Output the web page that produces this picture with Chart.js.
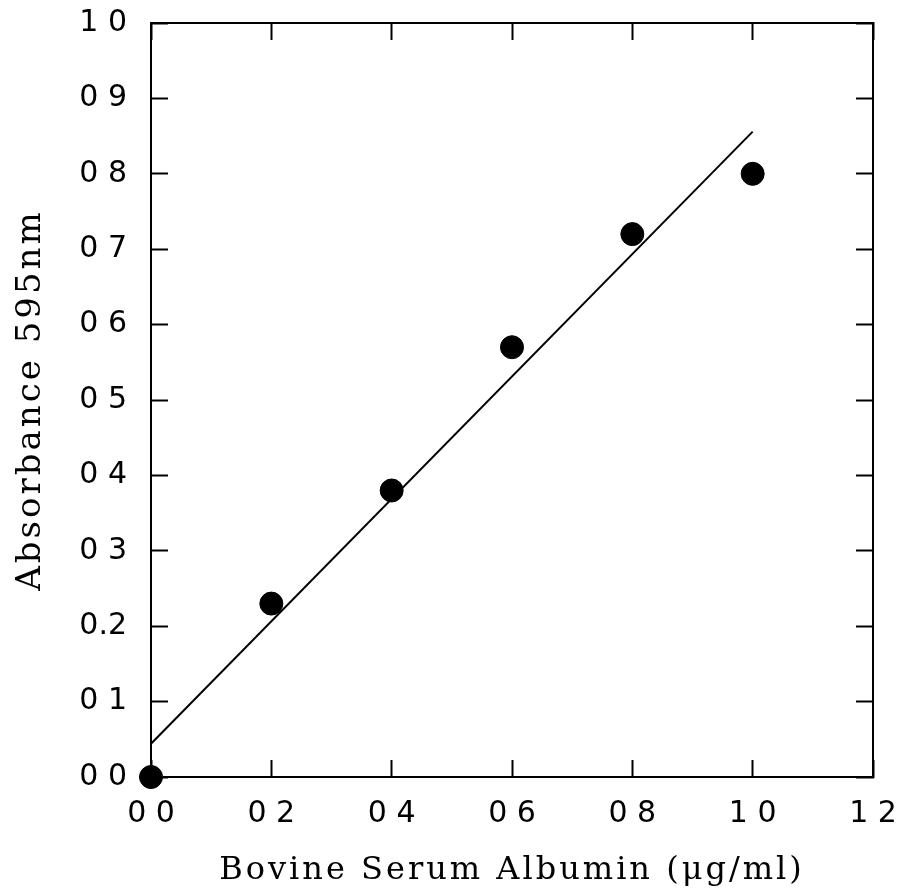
<!DOCTYPE html>
<html>
<head>
<meta charset="utf-8">
<script src="https://cdn.jsdelivr.net/npm/chart.js@4.4.1/dist/chart.umd.min.js"></script>
<style>
  html, body { margin: 0; padding: 0; background: #fff; }
  #wrap { width: 912px; height: 896px; position: relative; }
</style>
</head>
<body>
<div id="wrap"><canvas id="chart"></canvas></div>
<script>
// BSA standard curve data
const bsaConc = [0.0, 0.2, 0.4, 0.6, 0.8, 1.0];
const absorbance = [0.0, 0.23, 0.38, 0.57, 0.72, 0.80];

// fitted line endpoints
const fitX = [0.0, 1.0];
const fitY = [0.044, 0.856];

// axis ticks and their printed labels (as printed, dots mostly lost)
const xTickValues = [0.0, 0.2, 0.4, 0.6, 0.8, 1.0, 1.2];
const xTickLabels = ["0 0", "0 2", "0 4", "0 6", "0 8", "1 0", "1 2"];
const yTickValues = [0.0, 0.1, 0.2, 0.3, 0.4, 0.5, 0.6, 0.7, 0.8, 0.9, 1.0];
const yTickLabels = ["0 0", "0 1", "0.2", "0 3", "0 4", "0 5", "0 6", "0 7", "0 8", "0 9", "1 0"];

const xTitle = "Bovine Serum Albumin (\u03bcg/ml)";
const yTitle = "Absorbance 595nm";

const INK = "#000";
const tickFont = { family: "DejaVu Sans", size: 30 };

const pointsData = bsaConc.map((x, i) => ({ x, y: absorbance[i] }));
const fitData = fitX.map((x, i) => ({ x, y: fitY[i] }));

function setTicks(values) {
    return (scale) => { scale.ticks = values.map((v) => ({ value: v })); };
}

function labelFor(values, labels) {
    return (v) => {
        const i = values.findIndex((t) => Math.abs(t - v) < 1e-6);
        return i >= 0 ? labels[i] : "";
    };
}

// fixed box size, and no extra room asked for overflowing labels
function fixSize(w, h) {
    return (s) => {
        if (w !== null) s.width = w;
        if (h !== null) s.height = h;
        s.paddingLeft = s.paddingRight = s.paddingTop = s.paddingBottom = 0;
    };
}

// titles are drawn with the grid layer (z 0), tick labels after datasets (z 1):
// wide letter spacing only for the titles
const spacing = {
    id: "spacing",
    beforeDraw(chart) { chart.ctx.letterSpacing = "3px"; },
    afterDatasetsDraw(chart) { chart.ctx.letterSpacing = "0px"; },
};

// inward tick marks: negative tickLength
const innerGrid = {
    drawOnChartArea: false,
    drawTicks: true,
    tickLength: -17,
    tickWidth: 2,
    tickColor: INK,
    z: 0,
};
const frame = { display: true, color: INK, width: 2 };

new Chart(document.getElementById("chart").getContext("2d"), {
    data: {
        datasets: [
            {
                type: "line",
                data: fitData,
                borderColor: INK,
                borderWidth: 2,
                pointRadius: 0,
                fill: false,
                tension: 0,
                clip: false,
            },
            {
                type: "scatter",
                data: pointsData,
                backgroundColor: INK,
                borderColor: INK,
                pointRadius: 11.5,
                pointHoverRadius: 11.5,
                clip: false,
            },
        ],
    },
    plugins: [spacing],
    options: {
        responsive: true,
        maintainAspectRatio: false,
        animation: false,
        events: [],
        layout: { padding: { top: 23, right: 39, left: 0, bottom: 0 } },
        plugins: { legend: { display: false }, tooltip: { enabled: false } },
        scales: {
            x: {
                type: "linear",
                position: "bottom",
                min: 0,
                max: 1.2,
                afterBuildTicks: setTicks(xTickValues),
                afterFit: fixSize(null, 119),
                grid: innerGrid,
                border: frame,
                ticks: {
                    color: INK,
                    font: tickFont,
                    padding: 36,
                    maxRotation: 0,
                    autoSkip: false,
                    z: 1,
                    callback: labelFor(xTickValues, xTickLabels),
                },
                title: {
                    display: true,
                    text: xTitle,
                    color: INK,
                    font: { family: "DejaVu Serif", size: 32 },
                    padding: { top: 0, bottom: 6 },
                },
            },
            x2: {
                type: "linear",
                position: "top",
                min: 0,
                max: 1.2,
                afterBuildTicks: setTicks(xTickValues),
                afterFit: fixSize(null, 0),
                grid: innerGrid,
                border: frame,
                ticks: { display: false },
            },
            y: {
                type: "linear",
                position: "left",
                min: 0,
                max: 1.0,
                afterBuildTicks: setTicks(yTickValues),
                afterFit: fixSize(151, null),
                grid: innerGrid,
                border: frame,
                ticks: {
                    color: INK,
                    font: tickFont,
                    padding: 41,
                    autoSkip: false,
                    z: 1,
                    callback: labelFor(yTickValues, yTickLabels),
                },
                title: {
                    display: true,
                    text: yTitle,
                    color: INK,
                    font: { family: "DejaVu Serif", size: 34 },
                    padding: { top: 11, bottom: 0 },
                },
            },
            y2: {
                type: "linear",
                position: "right",
                min: 0,
                max: 1.0,
                afterBuildTicks: setTicks(yTickValues),
                afterFit: fixSize(0, null),
                grid: innerGrid,
                border: frame,
                ticks: { display: false },
            },
        },
    },
});
</script>
</body>
</html>
